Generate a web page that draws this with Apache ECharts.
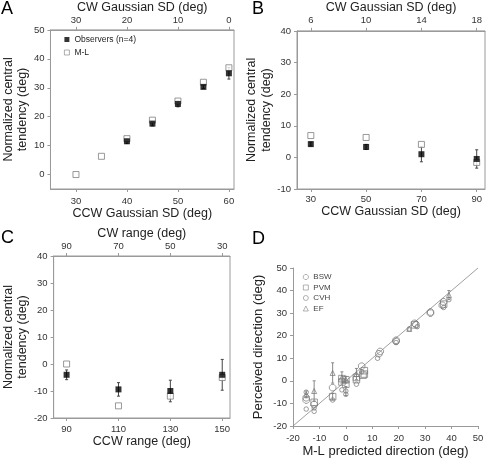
<!DOCTYPE html>
<html>
<head>
<meta charset="utf-8">
<script src="https://cdn.jsdelivr.net/npm/echarts@6/dist/echarts.min.js"></script>
<style>
html,body{margin:0;padding:0;background:#fff;}
#chart{width:487px;height:461px;}
</style>
</head>
<body>
<div id="chart"></div>
<script>
// ---------- Panel A ----------
const aCCW = [30, 35, 40, 45, 50, 55, 60];
const aML = [0, 6.3, 12.4, 18.8, 25.4, 31.9, 36.9];
const aObsX = [40, 45, 50, 55, 60];
const aObs = [11.5, 17.6, 24.4, 30.3, 35];
const aObsErr = [0.8, 0.8, 1.0, 0.6, 2.0];
const aBottomTicks = [30, 40, 50, 60];
const aTopTicks = [30, 20, 10, 0];
const aYTicks = [0, 10, 20, 30, 40, 50];

// ---------- Panel B ----------
const bCCW = [30, 50, 70, 90];
const bObs = [4.2, 3.3, 1.0, -0.5];
const bObsErr = [0.6, 0.8, 2.4, 2.9];
const bML = [6.9, 6.3, 4.1, -1.6];
const bBottomTicks = [30, 50, 70, 90];
const bTopTicks = [6, 10, 14, 18];
const bYTicks = [-10, 0, 10, 20, 30, 40];

// ---------- Panel C ----------
const cCCW = [90, 110, 130, 150];
const cObs = [-4.0, -9.4, -10.0, -4.0];
const cObsErr = [1.8, 2.5, 4.0, 5.7];
const cML = [0, -15.5, -11.9, -5.0];
const cBottomTicks = [90, 110, 130, 150];
const cTopTicks = [90, 70, 50, 30];
const cYTicks = [-20, -10, 0, 10, 20, 30, 40];

// ---------- Panel D ----------
const dBswX = [-15, -15, -12, -5, 6, 12.5, 13, 19, 19, 26, 26.5, 32, 32, 37, 36.5];
const dBswY = [-7.5, -8.5, -10.5, -3, 6.5, 12, 13, 18, 17.5, 25.5, 25, 30.5, 30, 35, 33.5];
const dPvmX = [-12, -5, -1.5, -1.5, 0, 0, 4, 4, 7, 7, 6.5, 26, 37];
const dPvmY = [-9.5, -7, 1, -0.5, -1.5, 0.5, 1.5, 0.5, 4.5, 3, 2.5, 24.8, 34];
const dCvhX = [-15, -15, -12, -12, -5, -1.5, 0, 0, 4, 6, 12, 19, 24, 27, 37, 39];
const dCvhY = [-12.5, -5, -13.5, -12, -8.5, -4, -4.5, -6, -1.5, 4, 10, 17, 23, 24, 32.5, 36];
const dEfX = [-15, -12, -5, -1.5, 0, 4, 24, 39];
const dEfY = [-6, -4.5, 3.5, 1.5, 0.5, 3, 23, 38];
const dErrX = [-15, -12, -5, -1.5, 0, 0, 4, 39, -5];
const dErrY = [-6, -4.5, 3.5, 1.5, 0.5, -4.5, 3, 38, -7];
const dErrE = [1.5, 4.5, 4.5, 2.5, 1.5, 2, 2.5, 2, 1.5];
const dTicks = [-20, -10, 0, 10, 20, 30, 40, 50];
const dLine = [-20, 50];

const FONT = 'Liberation Sans, Arial, sans-serif';
const AXC = '#9a9a9a';
const TXT = '#222';

function zip2(xs, ys) { return xs.map((x, i) => [x, ys[i]]); }
function zip3(xs, ys, es) { return xs.map((x, i) => [x, ys[i], es[i]]); }

function bottomAxis(gi, min, max, ticks, name, gap, margin, fs) {
  return {
    type: 'value', gridIndex: gi, position: 'bottom', min, max,
    name, nameLocation: 'middle', nameGap: gap,
    nameTextStyle: { fontFamily: FONT, fontSize: fs || 12.5, color: TXT },
    axisLine: { show: true, onZero: false, lineStyle: { color: AXC } },
    axisTick: { show: true, length: 3, customValues: ticks, lineStyle: { color: AXC } },
    axisLabel: { customValues: ticks, margin, fontFamily: FONT, fontSize: 9.5, color: '#333' },
    splitLine: { show: false }
  };
}
function topAxis(gi, min, max, ticks, labels, name, gap, margin) {
  return {
    type: 'value', gridIndex: gi, position: 'top', min, max,
    name, nameLocation: 'middle', nameGap: gap,
    nameTextStyle: { fontFamily: FONT, fontSize: 12.5, color: TXT },
    axisLine: { show: true, onZero: false, lineStyle: { color: AXC } },
    axisTick: { show: true, length: 3, customValues: ticks, lineStyle: { color: AXC } },
    axisLabel: { customValues: ticks, margin, fontFamily: FONT, fontSize: 9.5, color: '#333',
      formatter: v => String(labels[ticks.indexOf(v)]) },
    splitLine: { show: false }
  };
}
function leftAxis(gi, min, max, ticks, name, gap, fs) {
  return {
    type: 'value', gridIndex: gi, min, max,
    name, nameLocation: 'middle', nameGap: gap, nameRotate: 90,
    nameTextStyle: { fontFamily: FONT, fontSize: fs || 12.5, color: TXT, lineHeight: 14.5 },
    axisLine: { show: true, onZero: false, lineStyle: { color: AXC } },
    axisTick: { show: true, length: 3, customValues: ticks, lineStyle: { color: AXC } },
    axisLabel: { customValues: ticks, margin: 6, fontFamily: FONT, fontSize: 9.5, color: '#333' },
    splitLine: { show: false }
  };
}

function errSeries(xi, yi, data, color) {
  return {
    type: 'custom', xAxisIndex: xi, yAxisIndex: yi, data, z: 1, silent: true,
    encode: { x: 0, y: 1 },
    renderItem: (params, api) => {
      const x = api.value(0), y = api.value(1), e = api.value(2);
      const t = api.coord([x, y + e]), b = api.coord([x, y - e]);
      const w = 1.5;
      const st = { stroke: color || '#444', lineWidth: 1 };
      return { type: 'group', children: [
        { type: 'line', shape: { x1: t[0], y1: t[1], x2: b[0], y2: b[1] }, style: st },
        { type: 'line', shape: { x1: t[0] - w, y1: t[1], x2: t[0] + w, y2: t[1] }, style: st },
        { type: 'line', shape: { x1: b[0] - w, y1: b[1], x2: b[0] + w, y2: b[1] }, style: st }
      ]};
    }
  };
}
function obsSeries(xi, yi, data) {
  return { type: 'scatter', name: 'Observers (n=4)', xAxisIndex: xi, yAxisIndex: yi, data,
    symbol: 'rect', symbolSize: 6, z: 3, itemStyle: { color: '#000' } };
}
function mlSeries(xi, yi, data) {
  return { type: 'scatter', name: 'M-L', xAxisIndex: xi, yAxisIndex: yi, data,
    symbol: 'rect', symbolSize: 6, z: 2, itemStyle: { color: '#fff', borderColor: '#808080', borderWidth: 1 } };
}

const OCT = 'path://M3,0 L7,0 L10,3 L10,7 L7,10 L3,10 L0,7 L0,3 Z';
const hollow = { color: 'rgba(255,255,255,0)', borderColor: '#777', borderWidth: 0.9 };

const option = {
  animation: false,
  backgroundColor: '#fff',
  textStyle: { fontFamily: FONT },
  grid: [
    { left: 46, top: 27, width: 188, height: 162, show: true, borderColor: AXC, borderWidth: 1, backgroundColor: 'transparent' },
    { left: 297, top: 28, width: 188, height: 161, show: true, borderColor: AXC, borderWidth: 1, backgroundColor: 'transparent' },
    { left: 46, top: 256, width: 184, height: 162, show: true, borderColor: AXC, borderWidth: 1, backgroundColor: 'transparent' },
    { left: 293, top: 268, width: 185, height: 158 }
  ],
  xAxis: [
    bottomAxis(0, 25, 61, aBottomTicks, 'CCW Gaussian SD (deg)', 16, 7),
    topAxis(0, 25, 61, aBottomTicks, aTopTicks, 'CW Gaussian SD (deg)', 13, 5),
    bottomAxis(1, 25, 93, bBottomTicks, 'CCW Gaussian SD (deg)', 12, 5),
    topAxis(1, 25, 93, bBottomTicks, bTopTicks, 'CW Gaussian SD (deg)', 14, 6),
    bottomAxis(2, 85, 153, cBottomTicks, 'CCW range (deg)', 15, 6),
    topAxis(2, 85, 153, cBottomTicks, cTopTicks, 'CW range (deg)', 11, 5),
    bottomAxis(3, -20, 50, dTicks, 'M-L predicted direction (deg)', 19, 7, 13)
  ],
  yAxis: [
    leftAxis(0, -5, 50, aYTicks, 'Normalized central\ntendency (deg)', 17),
    leftAxis(1, -10, 40, bYTicks, 'Normalized central\ntendency (deg)', 19),
    leftAxis(2, -20, 40, cYTicks, 'Normalized central\ntendency (deg)', 18),
    leftAxis(3, -20, 50, dTicks, 'Perceived direction (deg)', 27, 13)
  ],
  legend: [
    { data: ['Observers (n=4)', 'M-L'], orient: 'vertical', left: 59, top: 30,
      itemWidth: 5, itemHeight: 5, itemGap: 4, itemStyle: { borderWidth: 0.8 },
      textStyle: { fontFamily: FONT, fontSize: 8.5, color: '#222' } },
    { data: ['BSW', 'PVM', 'CVH', 'EF'], orient: 'vertical', left: 298, top: 268,
      itemWidth: 5, itemHeight: 5, itemGap: 2.5, itemStyle: { borderWidth: 0.7 },
      textStyle: { fontFamily: FONT, fontSize: 8, color: '#444' } }
  ],
  graphic: [
    { type: 'text', left: 1, top: 0, style: { text: 'A', fontFamily: FONT, fontSize: 18, fill: '#000' } },
    { type: 'text', left: 252, top: 0, style: { text: 'B', fontFamily: FONT, fontSize: 18, fill: '#000' } },
    { type: 'text', left: 1, top: 229, style: { text: 'C', fontFamily: FONT, fontSize: 18, fill: '#000' } },
    { type: 'text', left: 252, top: 230, style: { text: 'D', fontFamily: FONT, fontSize: 18, fill: '#000' } }
  ],
  series: [
    // A
    errSeries(0, 0, zip3(aObsX, aObs, aObsErr)),
    mlSeries(0, 0, zip2(aCCW, aML)),
    obsSeries(0, 0, zip2(aObsX, aObs)),
    // B
    errSeries(2, 1, zip3(bCCW, bObs, bObsErr)),
    mlSeries(2, 1, zip2(bCCW, bML)),
    obsSeries(2, 1, zip2(bCCW, bObs)),
    // C
    errSeries(4, 2, zip3(cCCW, cObs, cObsErr)),
    mlSeries(4, 2, zip2(cCCW, cML)),
    obsSeries(4, 2, zip2(cCCW, cObs)),
    // D
    { type: 'line', xAxisIndex: 6, yAxisIndex: 3, data: zip2(dLine, dLine), symbol: 'none', silent: true,
      lineStyle: { color: '#888', width: 0.8 }, z: 1 },
    errSeries(6, 3, zip3(dErrX, dErrY, dErrE), '#888'),
    { type: 'scatter', name: 'BSW', xAxisIndex: 6, yAxisIndex: 3, data: zip2(dBswX, dBswY),
      symbol: OCT, symbolSize: 6.5, itemStyle: hollow, z: 3 },
    { type: 'scatter', name: 'PVM', xAxisIndex: 6, yAxisIndex: 3, data: zip2(dPvmX, dPvmY),
      symbol: 'rect', symbolSize: 6.5, itemStyle: hollow, z: 3 },
    { type: 'scatter', name: 'CVH', xAxisIndex: 6, yAxisIndex: 3, data: zip2(dCvhX, dCvhY),
      symbol: 'circle', symbolSize: 4.5, itemStyle: hollow, z: 3 },
    { type: 'scatter', name: 'EF', xAxisIndex: 6, yAxisIndex: 3, data: zip2(dEfX, dEfY),
      symbol: 'triangle', symbolSize: 5, itemStyle: hollow, z: 3 }
  ]
};

const chart = echarts.init(document.getElementById('chart'), null, { renderer: 'canvas' });
chart.setOption(option);
</script>
</body>
</html>
